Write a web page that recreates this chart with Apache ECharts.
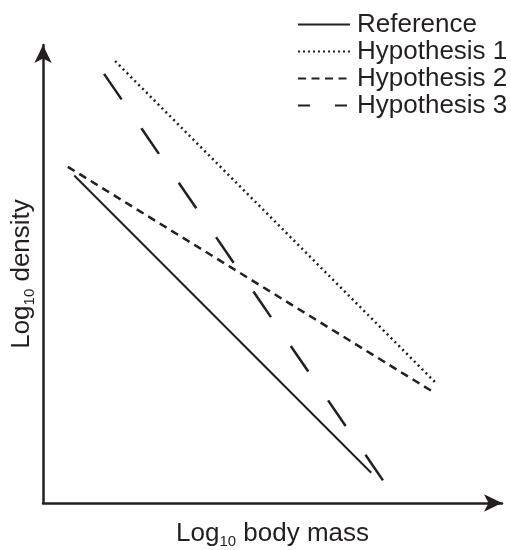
<!DOCTYPE html>
<html>
<head>
<meta charset="utf-8">
<script src="https://cdn.jsdelivr.net/npm/echarts@6/dist/echarts.min.js"></script>
<style>
  html, body { margin: 0; padding: 0; background: #fff; }
  #chart { width: 511px; height: 550px; }
</style>
</head>
<body>
<div id="chart"></div>
<script>
// Schematic density–body mass relationships (log10 units, arbitrary scale 0–10)
const seriesNames = ['Reference', 'Hypothesis 1', 'Hypothesis 2', 'Hypothesis 3'];
const referenceLine = [[0.68, 7.15], [7.15, 0.66]];
const hypothesis1 = [[1.57, 9.65], [8.56, 2.62]];
const hypothesis2 = [[0.54, 7.34], [8.54, 2.40]];
const hypothesis3 = [[1.33, 9.37], [7.43, 0.46]];

const ink = '#231f20';
const font = '"Liberation Sans", Arial, Helvetica, sans-serif';

const lineDashes = {
  'Reference': 'solid',
  'Hypothesis 1': [2, 3.5],
  'Hypothesis 2': [8, 5.5],
  'Hypothesis 3': [31, 35]
};
const legendDashes = {
  'Reference': 'solid',
  'Hypothesis 1': [2, 3],
  'Hypothesis 2': [8, 5.5],
  'Hypothesis 3': [12, 25]
};
const seriesData = [referenceLine, hypothesis1, hypothesis2, hypothesis3];

const chart = echarts.init(document.getElementById('chart'), null, { renderer: 'canvas' });

const axisLine = {
  show: true,
  symbol: ['none', 'arrow'],
  symbolSize: [13, 18],
  lineStyle: { color: ink, width: 2.5 }
};

const titleRich = {
  sub: { fontSize: 15, fontFamily: font, color: ink, verticalAlign: 'bottom', lineHeight: 4 }
};

chart.setOption({
  animation: false,
  backgroundColor: '#ffffff',
  grid: { left: 43, right: 9, top: 45, bottom: 47, containLabel: false, outerBoundsMode: 'none' },
  legend: {
    orient: 'vertical',
    left: 292,
    top: 6,
    itemWidth: 52,
    itemHeight: 14,
    itemGap: 0,
    selectedMode: false,
    textStyle: { fontSize: 26, fontFamily: font, color: ink, lineHeight: 27, padding: [0, 0, 0, 2] },
    data: seriesNames.map(name => ({
      name: name,
      itemStyle: { opacity: 0 },
      lineStyle: { type: legendDashes[name], width: 2, color: ink, cap: 'butt', opacity: 1 }
    }))
  },
  xAxis: {
    type: 'value',
    min: 0,
    max: 10,
    name: 'Log{sub|10} body mass',
    nameLocation: 'middle',
    nameGap: 16,
    nameTextStyle: { fontSize: 26, fontFamily: font, color: ink, lineHeight: 30, verticalAlign: 'top', rich: titleRich },
    axisLine: axisLine,
    axisTick: { show: false },
    axisLabel: { show: false },
    splitLine: { show: false }
  },
  yAxis: {
    type: 'value',
    min: 0,
    max: 10,
    name: 'Log{sub|10} density',
    nameLocation: 'middle',
    nameRotate: 90,
    nameGap: 6,
    nameTextStyle: { fontSize: 26, fontFamily: font, color: ink, lineHeight: 30, rich: titleRich },
    axisLine: axisLine,
    axisTick: { show: false },
    axisLabel: { show: false },
    splitLine: { show: false }
  },
  series: seriesNames.map((name, i) => ({
    name: name,
    type: 'line',
    data: seriesData[i],
    symbol: 'none',
    silent: true,
    lineStyle: {
      color: ink,
      width: name === 'Reference' ? 2 : 2.5,
      type: lineDashes[name],
      cap: 'butt'
    },
    itemStyle: { color: ink }
  }))
});
</script>
</body>
</html>
